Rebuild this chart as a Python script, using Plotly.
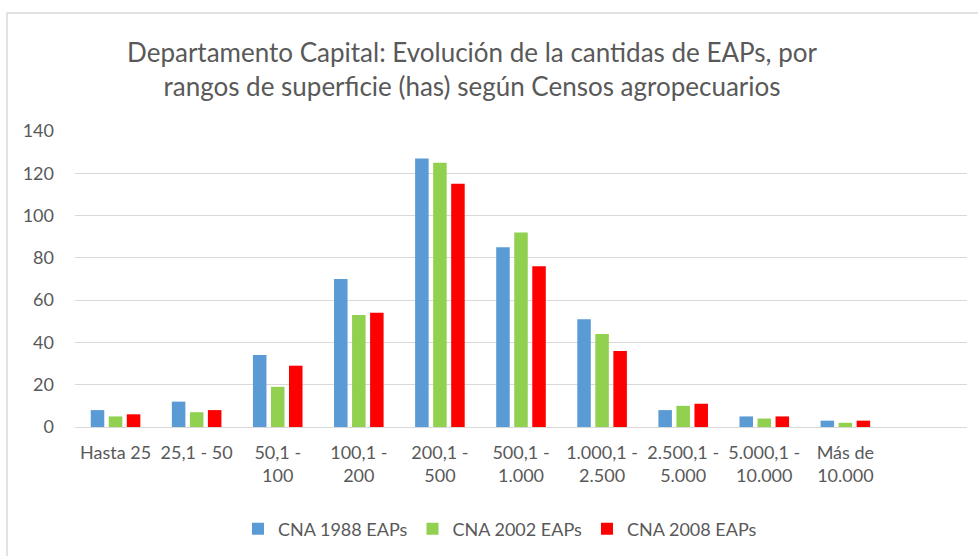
import plotly.graph_objects as go

categories = ["Hasta 25", "25,1 - 50", "50,1 -<br>100", "100,1 -<br>200", "200,1 -<br>500",
              "500,1 -<br>1.000", "1.000,1 -<br>2.500", "2.500,1 -<br>5.000",
              "5.000,1 -<br>10.000", "Más de<br>10.000"]
cna_1988 = [8, 12, 34, 70, 127, 85, 51, 8, 5, 3]
cna_2002 = [5, 7, 19, 53, 125, 92, 44, 10, 4, 2]
cna_2008 = [6, 8, 29, 54, 115, 76, 36, 11, 5, 3]
series_names = ["CNA 1988 EAPs", "CNA 2002 EAPs", "CNA 2008 EAPs"]
colors = ["#5B9BD5", "#92D050", "#FF0000"]

FONT = "Lato"
GRAY = "#595959"

fig = go.Figure()
for name, vals, col in zip(series_names, [cna_1988, cna_2002, cna_2008], colors):
    fig.add_trace(go.Bar(x=categories, y=vals, name=name, marker_color=col,
                         marker_line_width=0))

W, H = 978, 556
L, R, T, B = 75, 11, 131, 129
pw, ph = W - L - R, H - T - B

def px_x(p):
    return (p - L) / pw

def px_y(p):
    return (H - B - p) / ph

fig.update_layout(
    width=W, height=H,
    margin=dict(l=L, r=R, t=T, b=B, autoexpand=False),
    paper_bgcolor="white", plot_bgcolor="white",
    font=dict(family=FONT, color=GRAY, size=18),
    barmode="group", bargap=0.333, bargroupgap=0.25,
    title=dict(text="Departamento Capital: Evolución de la cantidas de EAPs, por<br>rangos de superficie (has) según Censos agropecuarios",
               x=472 / W, xanchor="center", y=1 - 62 / H, yanchor="middle",
               font=dict(family=FONT, size=26, color=GRAY)),
    xaxis=dict(range=[-0.5, 10.5], showgrid=False, showline=False, ticks="",
               ticklabelstandoff=13, tickfont=dict(size=18, color=GRAY)),
    yaxis=dict(range=[0, 140], dtick=20, showgrid=True, gridcolor="#D9D9D9",
               gridwidth=1, zeroline=True, zerolinecolor="#D9D9D9", zerolinewidth=1,
               showline=False, ticks="", ticklabelstandoff=20,
               tickfont=dict(size=18, color=GRAY)),
    legend=dict(orientation="h", x=px_x(500), xanchor="center", y=px_y(529),
                yanchor="middle", font=dict(size=18, color=GRAY),
                itemwidth=30, traceorder="normal"),
    showlegend=True,
)

fig.add_shape(type="rect", xref="paper", yref="paper",
              x0=px_x(7), x1=px_x(990), y0=px_y(570), y1=px_y(13),
              line=dict(color="#D9D9D9", width=1.5), fillcolor="rgba(0,0,0,0)",
              layer="below")

fig.write_html("out.html", config={"displayModeBar": False},
               post_script="document.body.style.margin='0px';")
